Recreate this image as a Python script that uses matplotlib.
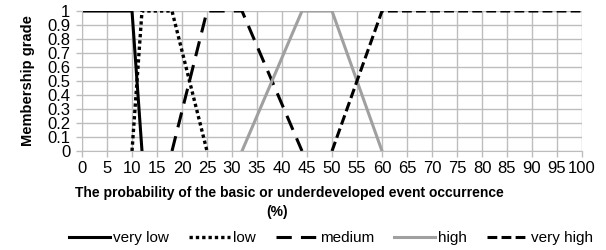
import matplotlib
matplotlib.use("Agg")
import matplotlib.pyplot as plt
import numpy as np

plt.rcParams["font.family"] = ["Liberation Sans", "DejaVu Sans"]

# membership functions (x in %, membership grade)
very_low_x = [0, 10, 12]
very_low_y = [1, 1, 0]
low_x = [10, 12, 18, 25]
low_y = [0, 1, 1, 0]
medium_x = [18, 25, 32, 44]
medium_y = [0, 1, 1, 0]
high_x = [32, 44, 50, 60]
high_y = [0, 1, 1, 0]
very_high_x = [50, 60, 100]
very_high_y = [0, 1, 1]

x_ticks = np.arange(0, 101, 5)
y_ticks = np.round(np.arange(0, 1.01, 0.1), 1)

fig = plt.figure(figsize=(6.06, 2.5), dpi=100)
ax = fig.add_axes([82 / 606, 1 - 151 / 250, 500 / 606, 140 / 250])

ax.plot(very_low_x, very_low_y, color="black", lw=2.2, label="very low")
ax.plot(low_x, low_y, color="black", lw=2.4, ls=(0, (1, 0.9)), label="low")
ax.plot(medium_x, medium_y, color="black", lw=2.2, ls=(0, (5, 3)), label="medium")
ax.plot(high_x, high_y, color="#a0a0a0", lw=2.2, label="high")
ax.plot(very_high_x, very_high_y, color="black", lw=2.2, ls=(0, (3.2, 1.4)), label="very high")

ax.set_xlim(0, 100)
ax.set_ylim(0, 1)
ax.set_xticks(x_ticks)
ax.set_yticks(y_ticks)
ax.set_yticklabels([("%g" % v) for v in y_ticks])
ax.grid(True, color="#bdbdbd", lw=1.0)
ax.set_axisbelow(True)
ax.tick_params(length=4, color="#bdbdbd", width=1.0, labelsize=12)
ax.tick_params(axis="x", pad=3.5)
ax.tick_params(axis="y", pad=4.5)
for s in ax.spines.values():
    s.set_visible(False)
ax.spines["left"].set_visible(True)
ax.spines["bottom"].set_visible(True)
ax.spines["left"].set_color("#bdbdbd")
ax.spines["bottom"].set_color("#bdbdbd")

ax.set_ylabel("Membership grade", fontsize=10.5, fontweight="bold", labelpad=9)
fig.text(289 / 606, 1 - 193 / 250, "The probability of the basic or underdeveloped event occurrence",
         ha="center", va="center", fontsize=10, fontweight="bold")
fig.text(277 / 606, 1 - 212 / 250, "(%)", ha="center", va="center", fontsize=10, fontweight="bold")

fig.legend(loc="center", bbox_to_anchor=(331 / 606, 1 - 238 / 250), ncol=5, frameon=False,
           fontsize=11, handlelength=2.7, handletextpad=0.2, columnspacing=1.3,
           borderpad=0, borderaxespad=0)

fig.savefig("out.png", dpi=100)
